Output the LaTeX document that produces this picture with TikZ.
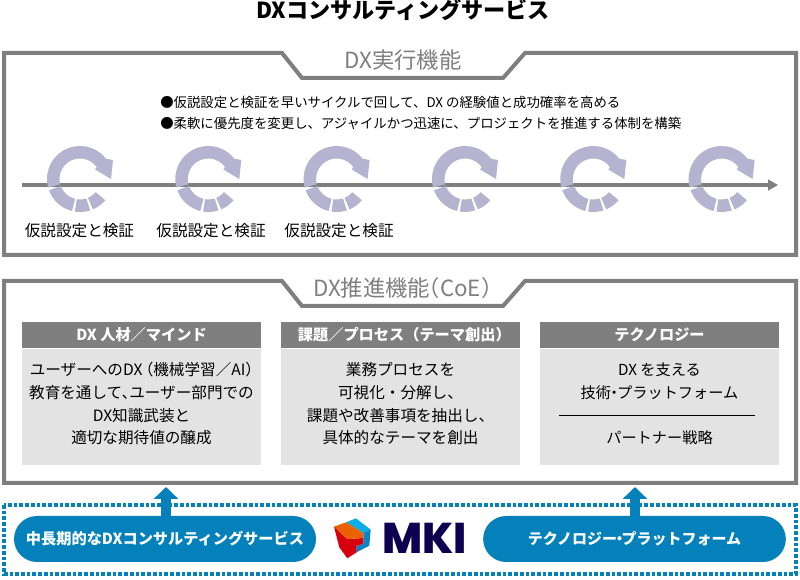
\documentclass[tikz,border=0pt]{standalone}
\usepackage{fontspec}
\setmainfont{Noto Sans CJK JP}
\newfontfamily\logofont{Poppins ExtraBold}
\usetikzlibrary{arrows.meta}

\definecolor{framegray}{HTML}{7F7F7F}
\definecolor{ringcolor}{HTML}{B5B3D0}
\definecolor{boxfill}{HTML}{E3E3E3}
\definecolor{mkiblue}{HTML}{0481BB}
\definecolor{mkinavy}{HTML}{0D0050}
\definecolor{logocyan}{HTML}{0BAEE6}
\definecolor{logoblue}{HTML}{0A84C8}
\definecolor{logored}{HTML}{D7000F}
\definecolor{logoorange}{HTML}{EB6100}

% size in reference pixels, leading fixed at 22.7px
\newcommand{\pxfont}[1]{\fontsize{\dimexpr #1pt*3/4\relax}{17pt}\selectfont}
\newcommand{\ringmark}[2]{%
    \begin{scope}[shift={(#1,#2)}, yscale=-1]
        \fill[ringcolor] (195:33) arc[start angle=195, end angle=38, radius=33]
            -- (33,19) -- (31,0) -- (15,9.5) -- (35:20.5)
            arc[start angle=35, end angle=195, radius=20.5] -- cycle;
        \fill[ringcolor] (200:33) arc[start angle=200, end angle=256, radius=33]
            -- (256:20.5) arc[start angle=256, end angle=200, radius=20.5] -- cycle;
        \fill[ringcolor] (261:33) arc[start angle=261, end angle=288, radius=33]
            -- (288:20.5) arc[start angle=288, end angle=261, radius=20.5] -- cycle;
        \fill[ringcolor] (293:33) arc[start angle=293, end angle=320, radius=33]
            -- (320:20.5) arc[start angle=320, end angle=293, radius=20.5] -- cycle;
    \end{scope}%
}

\begin{document}
\begin{tikzpicture}[
    x=0.75pt, y=-0.75pt,
    % Style for the two gray frames
    frame/.style={draw=framegray, line width=3pt, line join=miter},
    % Style for the frame titles
    frametitle/.style={text=framegray, font=\pxfont{22.3}, inner sep=0pt},
    % Style for the small texts
    bodytext/.style={align=center, font=\pxfont{15.6}, inner sep=0pt},
    pointtext/.style={anchor=west, font=\pxfont{13.4}, inner sep=0pt},
    % Style for the gray headers and the light boxes
    headbox/.style={fill=framegray, text=white, font=\bfseries\pxfont{15.2}, minimum width=179.25pt, minimum height=19.5pt, inner sep=0pt},
    bodybox/.style={fill=boxfill, minimum width=179.25pt, minimum height=87pt, inner sep=0pt},
    % Style for the blue pills
    pill/.style={fill=mkiblue, rounded corners=17.25pt, text=white, font=\bfseries\pxfont{15.2}, minimum height=34.5pt, inner sep=0pt},
    uparrow/.style={draw=mkiblue, line width=7.5pt, -{Triangle[length=9pt, width=18pt]}}
]
    \useasboundingbox (0,0) rectangle (800,580);

    % --- 1. Define Coordinates ---
    \coordinate (lineL) at (22,185);
    \coordinate (lineR) at (778,185);
    \coordinate (arrowL) at (166,487);
    \coordinate (arrowR) at (635,487);

    % --- 2. Title and Frames ---
    \node[font=\bfseries\pxfont{22.1}, inner sep=0pt] (title) at (403,10) {DXコンサルティングサービス};

    \draw[frame] (4,53) -- (282,53) -- (302,78) -- (503,78) -- (525,53) -- (796,53) -- (796,255) -- (4,255) -- cycle;
    \draw[frame] (4,281) -- (282,281) -- (302,306) -- (503,306) -- (525,281) -- (796,281) -- (796,483) -- (4,483) -- cycle;

    \node[frametitle] (runtitle) at (403,60) {DX実行機能};
    \node[frametitle, anchor=west] (coetitle) at (313,288) {DX推進機能\kern-.55em（CoE）};

    % --- 3. Cycle Row ---
    \draw[draw=framegray, line width=3pt, -{Triangle[length=7.5pt, width=8pt]}] (lineL) -- (lineR);
    \foreach \cx in {80,208.3,336.6,465,593.3,721.6} {
        \ringmark{\cx}{179}
    }

    \node[pointtext] (pointA) at (160,102) {●仮説設定と検証を早いサイクルで回して、DX の経験値と成功確率を高める};
    \node[pointtext] (pointB) at (160,123) {●柔軟に優先度を変更し、アジャイルかつ迅速に、プロジェクトを推進する体制を構築};

    \node[bodytext] (labelA) at (79.5,231) {仮説設定と検証};
    \node[bodytext] (labelB) at (211,231) {仮説設定と検証};
    \node[bodytext] (labelC) at (339,231) {仮説設定と検証};

    % --- 4. Three Columns ---
    \node[headbox] (headA) at (141.5,335) {DX 人材／マインド};
    \node[headbox] (headB) at (400.5,335) {課題／プロセス（テーマ創出）\kern-.5em};
    \node[headbox] (headC) at (659.5,335) {テクノロジー};

    \node[bodybox, anchor=north] (boxA) at (headA.south) {};
    \node[bodybox, anchor=north] (boxB) at (headB.south) {};
    \node[bodybox, anchor=north] (boxC) at (headC.south) {};

    \node[bodytext] (textA) at (141.5,404) {ユーザーへのDX\kern-.3em（機械学習／AI）\kern-.5em\\教育を通して、\kern-.5emユーザー部門での\\DX知識武装と\\適切な期待値の醸成};
    \node[bodytext] (textB) at (400.5,404) {業務プロセスを\\可視化・分解し、\\課題や改善事項を抽出し、\\具体的なテーマを創出};
    \node[bodytext, font=\pxfont{15.2}] (textC) at (659.5,381.5) {DX を支える\\技術\kern-.3em・\kern-.3emプラットフォーム};
    \node[bodytext, font=\pxfont{15.2}] (textD) at (659.5,438) {パートナー戦略};
    \coordinate (ruleL) at (559,415);
    \coordinate (ruleR) at (755,415);
    \draw[line width=0.6pt] (ruleL) -- (ruleR);

    % --- 5. Bottom Band ---
    \draw[mkiblue, line width=2.6pt, dash pattern=on 2.8pt off 1.5pt] (4,505) rectangle (796,574);

    \node[pill, minimum width=226.5pt] (pillL) at (165,539) {中長期的なDXコンサルティングサービス};
    \node[pill, minimum width=227pt, font=\bfseries\pxfont{15}] (pillR) at (634.5,539) {テクノロジー\kern-.32em・\kern-.38emプラットフォーム};

    \draw[uparrow] (pillL.north -| arrowL) -- (arrowL);
    \draw[uparrow] (pillR.north -| arrowR) -- (arrowR);

    % --- 6. Logo ---
    \fill[logocyan] (346,522.3) -- (356,518.3) -- (370.7,529.7) -- (363.3,533) -- cycle;
    \fill[logoblue] (370.7,529.7) -- (369.3,545.7) -- (356.7,552.3) -- (356.7,545.7) -- (363.3,544) -- (363.3,533) -- cycle;
    \fill[logored] (334,526.7) -- (347.3,539) -- (363.3,538) -- (363.3,544) -- (356.7,545.7) -- (356.7,552.3) -- (347.3,558.3) -- (339.3,547.3) -- cycle;
    \fill[logoorange] (334,526.7) -- (346,522.3) -- (363.3,533) -- (363.3,538) -- (347.3,539) -- cycle;
    \node[text=mkinavy, font=\logofont\pxfont{43}, inner sep=0pt] (logo) at (424.5,538) {MKI};
\end{tikzpicture}
\end{document}
